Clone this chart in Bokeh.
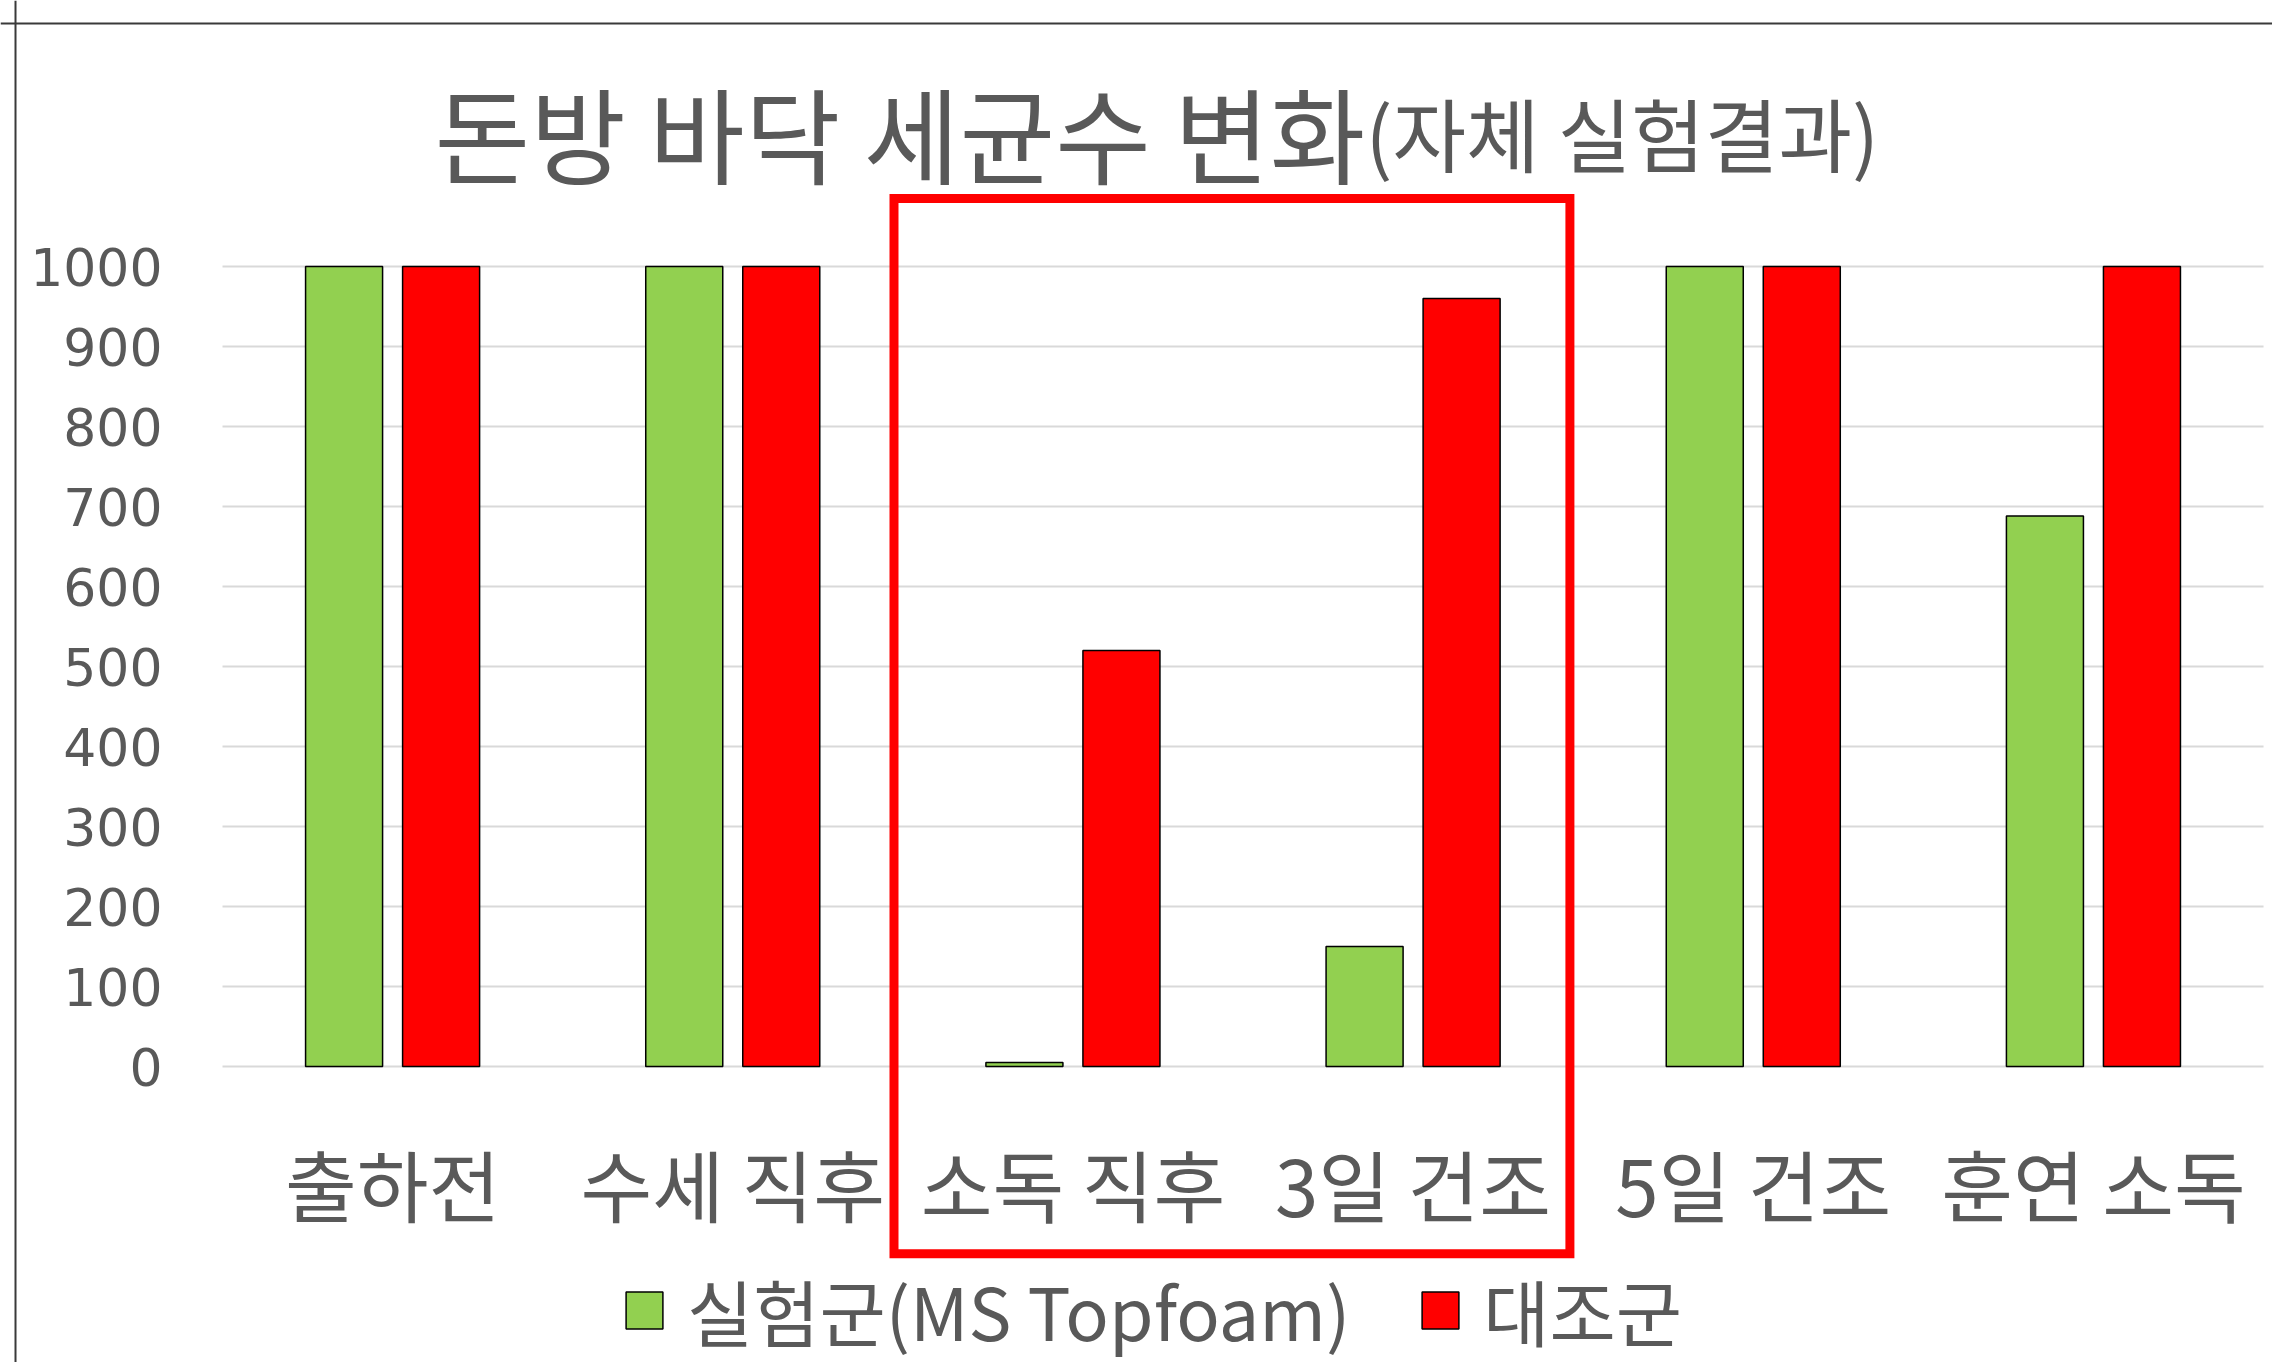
from bokeh.plotting import figure
from bokeh.models import (Range1d, FixedTicker, Legend, LegendItem, Span,
                          BoxAnnotation, Label, ColumnDataSource)
from bokeh.transform import dodge
from bokeh.embed import file_html
from bokeh.resources import INLINE

# ---- data ----
categories = ["출하전", "수세 직후", "소독 직후", "3일 건조", "5일 건조", "훈연 소독"]
test_values = [1000, 1000, 5, 150, 1000, 688]       # 실험군(MS Topfoam)
control_values = [1000, 1000, 520, 960, 1000, 1000]  # 대조군
series_names = ["실험군(MS Topfoam)", "대조군"]
y_ticks = [0, 100, 200, 300, 400, 500, 600, 700, 800, 900, 1000]
title_main = "돈방 바닥 세균수 변화"
title_sub = "(자체 실험결과)"

# ---- styles ----
GREEN = "#92D050"
RED = "#FF0000"
TEXT = "#595959"
KFONT = "Noto Sans CJK KR"

n = len(categories)
cat_x = [i + 0.5 for i in range(n)]
source = ColumnDataSource(dict(x=cat_x, cat=categories, test=test_values, control=control_values))
grid_src = ColumnDataSource(dict(y=y_ticks, x0=[0] * len(y_ticks), x1=[n] * len(y_ticks)))

p = figure(x_range=Range1d(-0.65262, 6.0264), y_range=Range1d(-370, 1332.5),
           width=2272, height=1362, output_backend="svg", toolbar_location=None,
           min_border_left=0, min_border_right=0, min_border_top=0, min_border_bottom=0)
p.title.text = ""
p.title.visible = False
p.outline_line_color = None
p.background_fill_color = "white"
p.border_fill_color = "white"
p.xgrid.visible = False
p.ygrid.visible = False

# chart border (left and top)
p.add_layout(Span(location=-0.6085, dimension="height", line_color="#3a3a3a", line_width=2))
p.add_layout(Span(location=1303.75, dimension="width", line_color="#3a3a3a", line_width=2))

# gridlines across the category area
p.segment(x0="x0", x1="x1", y0="y", y1="y", source=grid_src, line_color="#D9D9D9", line_width=2)

r1 = p.vbar(x=dodge("x", -0.1426), top="test", width=0.2264,
            source=source, fill_color=GREEN, line_color="black", line_width=1.5)
r2 = p.vbar(x=dodge("x", 0.1426), top="control", width=0.2264,
            source=source, fill_color=RED, line_color="black", line_width=1.5)

# y axis at x = 0
p.yaxis.fixed_location = 0
p.yaxis.ticker = FixedTicker(ticks=y_ticks)
p.yaxis.axis_line_color = None
p.yaxis.major_tick_line_color = None
p.yaxis.minor_tick_line_color = None
p.yaxis.major_label_text_font = "DejaVu Sans"
p.yaxis.major_label_text_font_size = "52px"
p.yaxis.major_label_text_color = TEXT
p.yaxis.major_label_standoff = 54

# x axis at y = 0
p.xaxis.fixed_location = 0
p.xaxis.ticker = FixedTicker(ticks=cat_x)
p.xaxis.major_label_overrides = {x: c for x, c in zip(cat_x, categories)}
p.xaxis.axis_line_color = None
p.xaxis.major_tick_line_color = None
p.xaxis.minor_tick_line_color = None
p.xaxis.major_label_text_font = KFONT
p.xaxis.major_label_text_font_size = "78px"
p.xaxis.major_label_text_color = TEXT
p.xaxis.major_label_standoff = 54

# title (two sizes on one line)
p.add_layout(Label(x=3.36, y=1169, text=title_main, text_align="right",
                   text_baseline="alphabetic", text_font=KFONT,
                   text_font_size="104px", text_color=TEXT))
p.add_layout(Label(x=3.36, y=1169, text=title_sub, text_align="left",
                   text_baseline="alphabetic", text_font=KFONT,
                   text_font_size="80px", text_color=TEXT))

# highlight box
p.add_layout(BoxAnnotation(left=1.974, right=3.961, top=1085, bottom=-234,
                           fill_color=None, fill_alpha=0, line_color=RED,
                           line_alpha=1.0, line_width=9, line_join="miter"))

legend = Legend(items=[LegendItem(label=series_names[0], renderers=[r1]),
                       LegendItem(label=series_names[1], renderers=[r2])],
                orientation="horizontal", location=(621, 0),
                glyph_width=46, glyph_height=46, label_standoff=20, spacing=67,
                padding=0, margin=0, border_line_color=None, background_fill_alpha=0,
                label_text_font=KFONT, label_text_font_size="72px",
                label_text_color=TEXT)
p.add_layout(legend)

open("out.html", "w").write(file_html(p, INLINE))
